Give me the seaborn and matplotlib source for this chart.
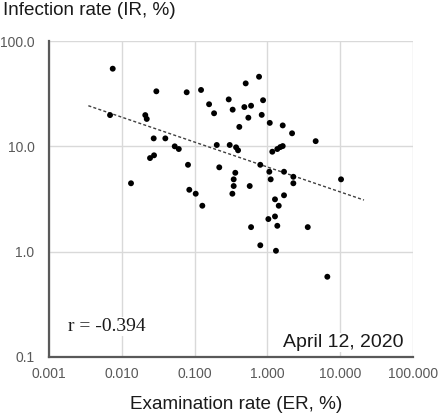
import matplotlib
matplotlib.use("Agg")
import matplotlib.pyplot as plt
import seaborn as sns
import pandas as pd

# --- values (ER %, IR %) ---
er = [0.0075, 0.0298, 0.0778, 0.1225, 0.503, 0.767, 0.158, 0.294, 0.482, 0.596,
      0.333, 0.185, 0.547, 0.411, 0.871, 0.835, 1.077, 1.622, 2.18, 4.60,
      0.00689, 0.0210, 0.0220, 0.0274, 0.0396, 0.0533, 0.0606, 0.0244, 0.0277, 0.0811,
      0.01337, 0.0845, 0.1035, 0.1276, 0.2014, 0.3033, 0.371, 0.395, 1.167, 1.367,
      1.503, 1.622, 0.218, 0.798, 0.362, 1.062, 1.69, 2.27, 0.344, 1.109,
      2.27, 0.344, 0.571, 0.330, 1.69, 1.27, 1.43, 1.27, 1.03, 1.367,
      0.596, 3.58, 0.798, 1.31, 6.65, 10.26]
ir = [54.6, 33.3, 32.6, 34.3, 39.6, 45.8, 25.1, 27.9, 23.6, 24.3,
      22.3, 20.6, 18.7, 15.3, 27.4, 19.9, 16.7, 15.8, 13.3, 11.2,
      19.8, 19.8, 18.2, 11.9, 11.9, 10.0, 9.43, 7.74, 8.22, 6.68,
      4.46, 3.87, 3.55, 2.73, 10.3, 10.3, 9.79, 9.17, 8.89, 9.43,
      9.84, 10.06, 6.32, 6.68, 5.61, 5.74, 5.74, 5.14, 4.86, 4.86,
      4.46, 4.20, 4.20, 3.55, 3.43, 3.14, 2.73, 2.16, 2.04, 1.76,
      1.71, 1.71, 1.15, 1.02, 0.578, 4.86]

# power-law trend line end points
trend_x = [0.00347, 21.2]
trend_y = [24.3, 3.09]

x_ticks = [0.001, 0.01, 0.1, 1, 10, 100]
x_ticklabels = ["0.001", "0.010", "0.100", "1.000", "10.000", "100.000"]
y_ticks = [0.1, 1, 10, 100]
y_ticklabels = ["0.1", "1.0", "10.0", "100.0"]

df = pd.DataFrame({"ER": er, "IR": ir})

sns.set_style("white")
plt.rcParams["font.family"] = ["Liberation Sans", "DejaVu Sans"]

fig = plt.figure(figsize=(4.4, 4.13), dpi=100)
ax = fig.add_axes([0.1114, 0.1356, 0.8273, 0.7651])

ax.set_xscale("log")
ax.set_yscale("log")

sns.scatterplot(data=df, x="ER", y="IR", ax=ax, color="black", s=18,
                edgecolor="none", zorder=3)
ax.plot(trend_x, trend_y, color="#404040", linewidth=1.0,
        linestyle=(0, (2.2, 1.6)), zorder=2)

ax.set_xlim(0.001, 100)
ax.set_ylim(0.1, 100)
ax.set_xticks(x_ticks)
ax.set_xticklabels(x_ticklabels)
ax.set_yticks(y_ticks)
ax.set_yticklabels(y_ticklabels)
ax.minorticks_off()
ax.tick_params(axis="x", length=0, pad=7, labelsize=10, labelcolor="#595959")
ax.tick_params(axis="y", length=0, pad=10.5, labelsize=10, labelcolor="#595959")
ax.set_xlabel("")
ax.set_ylabel("")

ax.grid(True, color="#d9d9d9", linewidth=1.0)
ax.set_axisbelow(True)
for side in ["top", "right"]:
    ax.spines[side].set_visible(False)
for side in ["left", "bottom"]:
    ax.spines[side].set_color("#595959")
    ax.spines[side].set_linewidth(1.6)
    ax.spines[side].set_zorder(4)

ax.text(0.052, 0.082, "r = -0.394", transform=ax.transAxes,
        family=["Liberation Serif", "DejaVu Serif"], fontsize=14,
        color="#1a1a1a", ha="left", va="baseline",
        bbox=dict(facecolor="white", edgecolor="none", pad=1))
ax.text(0.9725, 0.032, "April 12, 2020", transform=ax.transAxes,
        fontsize=14, color="#1a1a1a", ha="right", va="baseline",
        bbox=dict(facecolor="white", edgecolor="none", pad=1))

fig.text(0.007, 0.9625, "Infection rate (IR, %)", fontsize=13.6,
         color="#1a1a1a", ha="left", va="baseline")
fig.text(0.5375, 0.0097, "Examination rate (ER, %)", fontsize=13.6,
         color="#1a1a1a", ha="center", va="baseline")

fig.savefig("out.png", dpi=100)
